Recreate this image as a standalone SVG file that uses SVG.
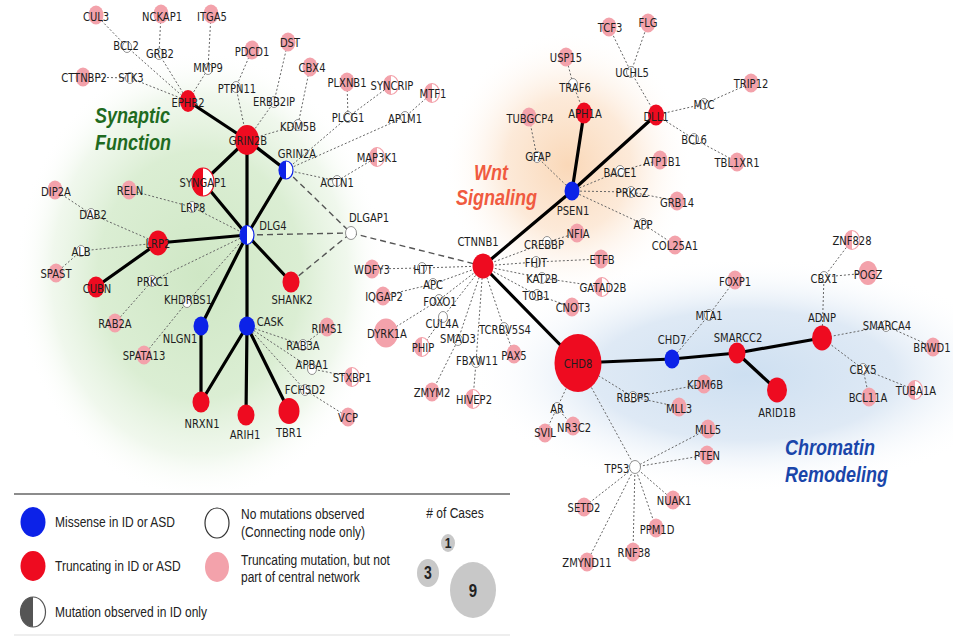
<svg xmlns="http://www.w3.org/2000/svg" width="953" height="638" viewBox="0 0 953 638">
<defs>
  <radialGradient id="gGreen" cx="0.5" cy="0.5" r="0.5">
    <stop offset="0" stop-color="#cfe7c5"/>
    <stop offset="0.55" stop-color="#d9edd1" stop-opacity="0.95"/>
    <stop offset="0.8" stop-color="#e6f3e1" stop-opacity="0.6"/>
    <stop offset="1" stop-color="#ffffff" stop-opacity="0"/>
  </radialGradient>
  <radialGradient id="gOrange" cx="0.5" cy="0.5" r="0.5">
    <stop offset="0" stop-color="#fad8b8"/>
    <stop offset="0.5" stop-color="#fce6d2" stop-opacity="0.85"/>
    <stop offset="1" stop-color="#ffffff" stop-opacity="0"/>
  </radialGradient>
  <radialGradient id="gBlue" cx="0.5" cy="0.5" r="0.5">
    <stop offset="0" stop-color="#cddff1"/>
    <stop offset="0.55" stop-color="#dbe7f4" stop-opacity="0.9"/>
    <stop offset="1" stop-color="#ffffff" stop-opacity="0"/>
  </radialGradient>
</defs>
<style>
  .pk{fill:#f3a2ab}
  .rd{fill:#ee0b20}
  .bl{fill:#0c22e8}
  .wh{fill:#fff;stroke:#777;stroke-width:.8}
  .hb{fill:#fff;stroke:#0c22e8;stroke-width:1.2}
  .hr{fill:#fff;stroke:#ee0b20;stroke-width:1.2}
  .hp{fill:#fff;stroke:#f3a2ab;stroke-width:1.2}
  .lb{font-family:"DejaVu Sans",Verdana,sans-serif;font-size:10px;fill:#1e1e1e;text-anchor:middle}
  .thk{stroke:#000;stroke-width:3.2;fill:none;stroke-linecap:round}
  .dsh{stroke:#555;stroke-width:1.4;fill:none;stroke-dasharray:6 4}
  .dot{stroke:#666;stroke-width:1;fill:none;stroke-dasharray:2 2}
  .ttl{font-family:"Liberation Sans",Arial,sans-serif;font-size:18px;font-weight:bold;font-style:italic}
  .lg{font-family:"Liberation Sans",Arial,sans-serif;font-size:12px;fill:#222}
  .cs{fill:#c8c8c8}
  .num{font-family:"Liberation Sans",Arial,sans-serif;font-weight:bold;fill:#222;text-anchor:middle}
</style>

<!-- soft background regions -->
<g id="regions">
  <ellipse cx="200" cy="275" rx="185" ry="225" fill="url(#gGreen)"/>
  <ellipse cx="568" cy="165" rx="125" ry="135" fill="url(#gOrange)"/>
  <ellipse cx="745" cy="375" rx="275" ry="118" fill="url(#gBlue)"/>
</g>

<g id="region-titles">
  <g fill="#1f6b1f">
    <text class="ttl" transform="translate(95 123) scale(1 1.25)">Synaptic</text>
    <text class="ttl" transform="translate(95 150) scale(1 1.25)">Function</text>
  </g>
  <g fill="#f05a40">
    <text class="ttl" transform="translate(474 180) scale(1 1.25)">Wnt</text>
    <text class="ttl" transform="translate(456 205) scale(1 1.25)">Signaling</text>
  </g>
  <g fill="#1a46aa">
    <text class="ttl" transform="translate(785 455) scale(1 1.25)">Chromatin</text>
    <text class="ttl" transform="translate(785 482) scale(1 1.25)">Remodeling</text>
  </g>
</g>

<!-- connectors -->
<g id="connectors">
  <g class="dot">
    <path d="M96,15L127,47L188,101M161,14L159,54L188,101M211,14L208,69L188,101M83,77L130,78L188,101"/>
    <path d="M252,50L236,87L247,140M288,42L274,102L247,140M310,67L298,125L247,140"/>
    <path d="M347,82L348,117M391,85L348,117L286,170M432,93L405,117L286,170M377,157L337,181L286,170"/>
    <path d="M55,190L91,214L158,243M129,190L192,207L247,235M56,273L81,251L158,243M115,323L152,281L247,235M144,355L187,302L247,235"/>
    <path d="M247,326L303,345L327,327M247,326L312,369L352,377M247,326L305,390L348,417"/>
    <path d="M483,266L422,268L372,269M483,266L433,284L383,296M483,266L439,300L386,333M483,266L443,317L422,347M483,266L458,340L432,392M483,266L476,362L473,399M483,266L504,328L514,354"/>
    <path d="M483,266L547,242L577,233M483,266L536,262L601,259M483,266L542,278L602,287M483,266L537,295L572,307"/>
    <path d="M572,191L537,157L529,117M584,113L573,84L566,57M656,115L631,72L609,27M631,72L648,23M656,115L704,104L751,83M656,115L694,139L737,162"/>
    <path d="M572,191L620,171L660,160M572,191L631,192L677,201M572,191L643,224L675,245"/>
    <path d="M672,359L709,315L735,280M822,338L824,277L852,240M824,277L868,273M822,338L886,326L933,347M822,338L863,369L869,397M863,369L915,390"/>
    <path d="M578,363L633,397L704,384M633,397L679,407M578,363L557,408L545,433M557,408L573,426"/>
    <path d="M578,363L635,467L708,429M635,467L707,455M635,467L673,500M635,467L656,528M635,467L633,552M635,467L587,562M635,467L584,507"/>
  </g>
  <g class="dsh">
    <path d="M286,170L351,233M247,235L351,233M291,282L351,233M351,233L483,266"/>
  </g>
  <g class="thk">
    <path d="M188,101L247,140M247,140L203,182M247,140L247,235M247,140L286,170M203,182L247,235M286,170L247,235"/>
    <path d="M158,243L247,235M158,243L96,287M247,235L291,282M247,235L201,326M247,235L247,326"/>
    <path d="M201,326L201,402M247,326L201,402M247,326L246,415M247,326L289,411"/>
    <path d="M483,266L572,191M572,191L656,115M572,191L584,113M483,266L578,363"/>
    <path d="M578,363L672,359M672,359L737,353M737,353L822,338M737,353L777,390"/>
  </g>
</g>

<!-- genes: synaptic function -->
<g id="nodes">
<g id="n-CUL3"><ellipse class="pk" cx="96" cy="15" rx="7.5" ry="9.5"/><text class="lb" transform="translate(96 20.5) scale(1 1.25)">CUL3</text></g>
<g id="n-NCKAP1"><ellipse class="pk" cx="161" cy="14" rx="7.5" ry="9.5"/><text class="lb" transform="translate(162 20.5) scale(1 1.25)">NCKAP1</text></g>
<g id="n-ITGA5"><ellipse class="pk" cx="211" cy="14" rx="7.5" ry="9.5"/><text class="lb" transform="translate(212 20.5) scale(1 1.25)">ITGA5</text></g>
<g id="n-BCL2"><ellipse class="wh" cx="127" cy="47" rx="4.5" ry="5.5"/><text class="lb" transform="translate(126 49.5) scale(1 1.25)">BCL2</text></g>
<g id="n-GRB2"><ellipse class="wh" cx="159" cy="54" rx="4.5" ry="5.5"/><text class="lb" transform="translate(160 57.5) scale(1 1.25)">GRB2</text></g>
<g id="n-MMP9"><ellipse class="wh" cx="208" cy="69" rx="4.5" ry="5.5"/><text class="lb" transform="translate(208 71.5) scale(1 1.25)">MMP9</text></g>
<g id="n-PDCD1"><ellipse class="pk" cx="252" cy="50" rx="7.5" ry="9.5"/><text class="lb" transform="translate(252 55.5) scale(1 1.25)">PDCD1</text></g>
<g id="n-DST"><ellipse class="pk" cx="288" cy="42" rx="7.5" ry="9.5"/><text class="lb" transform="translate(290 46.5) scale(1 1.25)">DST</text></g>
<g id="n-CBX4"><ellipse class="pk" cx="310" cy="67" rx="7.5" ry="9.5"/><text class="lb" transform="translate(312 71.5) scale(1 1.25)">CBX4</text></g>
<g id="n-CTTNBP2"><ellipse class="pk" cx="83" cy="77" rx="7.5" ry="9.5"/><text class="lb" transform="translate(84 81.5) scale(1 1.25)">CTTNBP2</text></g>
<g id="n-STK3"><ellipse class="wh" cx="130" cy="78" rx="4.5" ry="5.5"/><text class="lb" transform="translate(131 81.5) scale(1 1.25)">STK3</text></g>
<g id="n-EPHB2"><ellipse class="rd" cx="188" cy="101" rx="8" ry="11"/><text class="lb" transform="translate(188 106.5) scale(1 1.25)">EPHB2</text></g>
<g id="n-PTPN11"><ellipse class="wh" cx="236" cy="87" rx="4.5" ry="5.5"/><text class="lb" transform="translate(237 92.5) scale(1 1.25)">PTPN11</text></g>
<g id="n-ERBB2IP"><ellipse class="wh" cx="274" cy="102" rx="4.5" ry="5.5"/><text class="lb" transform="translate(274 105.5) scale(1 1.25)">ERBB2IP</text></g>
<g id="n-KDM5B"><ellipse class="wh" cx="298" cy="125" rx="4.5" ry="5.5"/><text class="lb" transform="translate(298 130.5) scale(1 1.25)">KDM5B</text></g>
<g id="n-GRIN2B"><ellipse class="rd" cx="247" cy="140" rx="12" ry="15"/><text class="lb" transform="translate(248 144.5) scale(1 1.25)">GRIN2B</text></g>
<g id="n-GRIN2A"><ellipse class="hb" cx="286" cy="170" rx="7" ry="9"/><path class="bl" d="M286,161A7,9 0 0 0 286,179Z"/><text class="lb" transform="translate(297 157.5) scale(1 1.25)">GRIN2A</text></g>
<g id="n-SYNGAP1"><ellipse class="hr" cx="203" cy="182" rx="11" ry="14"/><path class="rd" d="M203,168A11,14 0 0 0 203,196Z"/><text class="lb" transform="translate(203 186.5) scale(1 1.25)">SYNGAP1</text></g>
<g id="n-PLXNB1"><ellipse class="pk" cx="347" cy="82" rx="7.5" ry="9.5"/><text class="lb" transform="translate(347 86.5) scale(1 1.25)">PLXNB1</text></g>
<g id="n-SYNCRIP"><ellipse class="hp" cx="391" cy="85" rx="7.5" ry="9.5"/><path class="pk" d="M391,75.5A7.5,9.5 0 0 0 391,94.5Z"/><text class="lb" transform="translate(392 89.5) scale(1 1.25)">SYNCRIP</text></g>
<g id="n-MTF1"><ellipse class="hp" cx="432" cy="93" rx="7.5" ry="9.5"/><path class="pk" d="M432,83.5A7.5,9.5 0 0 0 432,102.5Z"/><text class="lb" transform="translate(433 97.5) scale(1 1.25)">MTF1</text></g>
<g id="n-PLCG1"><ellipse class="wh" cx="348" cy="117" rx="4.5" ry="5.5"/><text class="lb" transform="translate(348 121.5) scale(1 1.25)">PLCG1</text></g>
<g id="n-AP1M1"><ellipse class="wh" cx="405" cy="117" rx="4.5" ry="5.5"/><text class="lb" transform="translate(405 122.5) scale(1 1.25)">AP1M1</text></g>
<g id="n-MAP3K1"><ellipse class="hp" cx="377" cy="157" rx="7.5" ry="9.5"/><path class="pk" d="M377,147.5A7.5,9.5 0 0 0 377,166.5Z"/><text class="lb" transform="translate(377 161.5) scale(1 1.25)">MAP3K1</text></g>
<g id="n-ACTN1"><ellipse class="wh" cx="337" cy="181" rx="4.5" ry="5.5"/><text class="lb" transform="translate(337 186.5) scale(1 1.25)">ACTN1</text></g>
<g id="n-DLGAP1"><ellipse class="wh" cx="351" cy="233" rx="5.5" ry="6.5"/><text class="lb" transform="translate(369 221.5) scale(1 1.25)">DLGAP1</text></g>
<g id="n-DIP2A"><ellipse class="pk" cx="55" cy="190" rx="7.5" ry="9.5"/><text class="lb" transform="translate(56 195.5) scale(1 1.25)">DIP2A</text></g>
<g id="n-RELN"><ellipse class="pk" cx="129" cy="190" rx="7.5" ry="9.5"/><text class="lb" transform="translate(130 194.5) scale(1 1.25)">RELN</text></g>
<g id="n-LRP8"><ellipse class="wh" cx="192" cy="207" rx="4.5" ry="5.5"/><text class="lb" transform="translate(193 211.5) scale(1 1.25)">LRP8</text></g>
<g id="n-DAB2"><ellipse class="wh" cx="91" cy="214" rx="4.5" ry="5.5"/><text class="lb" transform="translate(93 218.5) scale(1 1.25)">DAB2</text></g>
<g id="n-LRP2"><ellipse class="rd" cx="158" cy="243" rx="10" ry="12.5"/><text class="lb" transform="translate(158 247.5) scale(1 1.25)">LRP2</text></g>
<g id="n-DLG4"><ellipse class="hb" cx="247" cy="235" rx="7" ry="9.5"/><path class="bl" d="M247,225.5A7,9.5 0 0 0 247,244.5Z"/><text class="lb" transform="translate(273 229.5) scale(1 1.25)">DLG4</text></g>
<g id="n-ALB"><ellipse class="wh" cx="81" cy="251" rx="4.5" ry="5.5"/><text class="lb" transform="translate(81 255.5) scale(1 1.25)">ALB</text></g>
<g id="n-SPAST"><ellipse class="pk" cx="56" cy="273" rx="7.5" ry="9.5"/><text class="lb" transform="translate(56 277.5) scale(1 1.25)">SPAST</text></g>
<g id="n-CUBN"><ellipse class="rd" cx="96" cy="287" rx="8.5" ry="10.5"/><text class="lb" transform="translate(97 292.5) scale(1 1.25)">CUBN</text></g>
<g id="n-PRKC1"><ellipse class="wh" cx="152" cy="281" rx="4.5" ry="5.5"/><text class="lb" transform="translate(153 285.5) scale(1 1.25)">PRKC1</text></g>
<g id="n-SHANK2"><ellipse class="rd" cx="291" cy="282" rx="8.5" ry="10.5"/><text class="lb" transform="translate(292 303.5) scale(1 1.25)">SHANK2</text></g>
<g id="n-KHDRBS1"><ellipse class="wh" cx="187" cy="302" rx="4.5" ry="5.5"/><text class="lb" transform="translate(188 303.5) scale(1 1.25)">KHDRBS1</text></g>
<g id="n-RAB2A"><ellipse class="pk" cx="115" cy="323" rx="7.5" ry="9.5"/><text class="lb" transform="translate(115 327.5) scale(1 1.25)">RAB2A</text></g>
<g id="n-NLGN1"><ellipse class="bl" cx="201" cy="326" rx="7.5" ry="9.5"/><text class="lb" transform="translate(180 342.5) scale(1 1.25)">NLGN1</text></g>
<g id="n-CASK"><ellipse class="bl" cx="247" cy="326" rx="8" ry="9.5"/><text class="lb" transform="translate(270 325.5) scale(1 1.25)">CASK</text></g>
<g id="n-SPATA13"><ellipse class="pk" cx="144" cy="355" rx="7.5" ry="9.5"/><text class="lb" transform="translate(144 359.5) scale(1 1.25)">SPATA13</text></g>
<g id="n-NRXN1"><ellipse class="rd" cx="201" cy="402" rx="8.5" ry="10.5"/><text class="lb" transform="translate(202 427.5) scale(1 1.25)">NRXN1</text></g>
<g id="n-ARIH1"><ellipse class="rd" cx="246" cy="415" rx="8.5" ry="10.5"/><text class="lb" transform="translate(245 438.5) scale(1 1.25)">ARIH1</text></g>
<g id="n-TBR1"><ellipse class="rd" cx="289" cy="411" rx="10.5" ry="13"/><text class="lb" transform="translate(289 436.5) scale(1 1.25)">TBR1</text></g>
<g id="n-RIMS1"><ellipse class="pk" cx="327" cy="327" rx="7.5" ry="9.5"/><text class="lb" transform="translate(327 332.5) scale(1 1.25)">RIMS1</text></g>
<g id="n-RAB3A"><ellipse class="wh" cx="303" cy="345" rx="4.5" ry="5.5"/><text class="lb" transform="translate(303 349.5) scale(1 1.25)">RAB3A</text></g>
<g id="n-APBA1"><ellipse class="wh" cx="312" cy="369" rx="4.5" ry="5.5"/><text class="lb" transform="translate(312 368.5) scale(1 1.25)">APBA1</text></g>
<g id="n-STXBP1"><ellipse class="hp" cx="352" cy="377" rx="7.5" ry="9.5"/><path class="pk" d="M352,367.5A7.5,9.5 0 0 0 352,386.5Z"/><text class="lb" transform="translate(352 381.5) scale(1 1.25)">STXBP1</text></g>
<g id="n-FCHSD2"><ellipse class="wh" cx="305" cy="390" rx="4.5" ry="5.5"/><text class="lb" transform="translate(305 393.5) scale(1 1.25)">FCHSD2</text></g>
<g id="n-VCP"><ellipse class="pk" cx="348" cy="417" rx="7.5" ry="9.5"/><text class="lb" transform="translate(348 421.5) scale(1 1.25)">VCP</text></g>

<!-- genes: Wnt signaling -->
<g id="n-CTNNB1"><ellipse class="rd" cx="483" cy="266" rx="10.5" ry="12.5"/><text class="lb" transform="translate(478 245.5) scale(1 1.25)">CTNNB1</text></g>
<g id="n-WDFY3"><ellipse class="pk" cx="372" cy="269" rx="7.5" ry="9.5"/><text class="lb" transform="translate(372 273.5) scale(1 1.25)">WDFY3</text></g>
<g id="n-HTT"><ellipse class="wh" cx="422" cy="268" rx="4.5" ry="5.5"/><text class="lb" transform="translate(423 273.5) scale(1 1.25)">HTT</text></g>
<g id="n-APC"><ellipse class="wh" cx="433" cy="284" rx="4.5" ry="5.5"/><text class="lb" transform="translate(433 288.5) scale(1 1.25)">APC</text></g>
<g id="n-IQGAP2"><ellipse class="pk" cx="383" cy="296" rx="7.5" ry="9.5"/><text class="lb" transform="translate(384 300.5) scale(1 1.25)">IQGAP2</text></g>
<g id="n-FOXO1"><ellipse class="wh" cx="439" cy="300" rx="4.5" ry="5.5"/><text class="lb" transform="translate(440 305.5) scale(1 1.25)">FOXO1</text></g>
<g id="n-DYRK1A"><ellipse class="pk" cx="386" cy="333" rx="12" ry="14.5"/><text class="lb" transform="translate(387 337.5) scale(1 1.25)">DYRK1A</text></g>
<g id="n-CUL4A"><ellipse class="wh" cx="443" cy="317" rx="4.5" ry="5.5"/><text class="lb" transform="translate(442 327.5) scale(1 1.25)">CUL4A</text></g>
<g id="n-PHIP"><ellipse class="hp" cx="422" cy="347" rx="7.5" ry="9.5"/><path class="pk" d="M422,337.5A7.5,9.5 0 0 0 422,356.5Z"/><text class="lb" transform="translate(423 351.5) scale(1 1.25)">PHIP</text></g>
<g id="n-SMAD3"><ellipse class="wh" cx="458" cy="340" rx="4.5" ry="5.5"/><text class="lb" transform="translate(458 342.5) scale(1 1.25)">SMAD3</text></g>
<g id="n-TCRBV5S4"><ellipse class="wh" cx="504" cy="328" rx="4.5" ry="5.5"/><text class="lb" transform="translate(505 333.5) scale(1 1.25)">TCRBV5S4</text></g>
<g id="n-PAX5"><ellipse class="pk" cx="514" cy="354" rx="7.5" ry="9.5"/><text class="lb" transform="translate(514 359.5) scale(1 1.25)">PAX5</text></g>
<g id="n-FBXW11"><ellipse class="wh" cx="476" cy="362" rx="4.5" ry="5.5"/><text class="lb" transform="translate(477 364.5) scale(1 1.25)">FBXW11</text></g>
<g id="n-ZMYM2"><ellipse class="pk" cx="432" cy="392" rx="7.5" ry="9.5"/><text class="lb" transform="translate(432 396.5) scale(1 1.25)">ZMYM2</text></g>
<g id="n-HIVEP2"><ellipse class="hp" cx="473" cy="399" rx="7.5" ry="9.5"/><path class="pk" d="M473,389.5A7.5,9.5 0 0 0 473,408.5Z"/><text class="lb" transform="translate(474 403.5) scale(1 1.25)">HIVEP2</text></g>
<g id="n-CREBBP"><ellipse class="wh" cx="547" cy="242" rx="4.5" ry="5.5"/><text class="lb" transform="translate(544 248.5) scale(1 1.25)">CREBBP</text></g>
<g id="n-NFIA"><ellipse class="pk" cx="577" cy="233" rx="7.5" ry="9.5"/><text class="lb" transform="translate(578 237.5) scale(1 1.25)">NFIA</text></g>
<g id="n-FHIT"><ellipse class="wh" cx="536" cy="262" rx="4.5" ry="5.5"/><text class="lb" transform="translate(536 266.5) scale(1 1.25)">FHIT</text></g>
<g id="n-ETFB"><ellipse class="pk" cx="601" cy="259" rx="7.5" ry="9.5"/><text class="lb" transform="translate(602 263.5) scale(1 1.25)">ETFB</text></g>
<g id="n-KAT2B"><ellipse class="wh" cx="542" cy="278" rx="4.5" ry="5.5"/><text class="lb" transform="translate(542 282.5) scale(1 1.25)">KAT2B</text></g>
<g id="n-GATAD2B"><ellipse class="hp" cx="602" cy="287" rx="7.5" ry="9.5"/><path class="pk" d="M602,277.5A7.5,9.5 0 0 0 602,296.5Z"/><text class="lb" transform="translate(603 291.5) scale(1 1.25)">GATAD2B</text></g>
<g id="n-TOB1"><ellipse class="wh" cx="537" cy="295" rx="4.5" ry="5.5"/><text class="lb" transform="translate(536 299.5) scale(1 1.25)">TOB1</text></g>
<g id="n-CNOT3"><ellipse class="pk" cx="572" cy="307" rx="7.5" ry="9.5"/><text class="lb" transform="translate(573 311.5) scale(1 1.25)">CNOT3</text></g>
<g id="n-PSEN1"><ellipse class="bl" cx="572" cy="191" rx="7.5" ry="9.5"/><text class="lb" transform="translate(573 214.5) scale(1 1.25)">PSEN1</text></g>
<g id="n-APH1A"><ellipse class="rd" cx="584" cy="113" rx="8" ry="10.5"/><text class="lb" transform="translate(585 117.5) scale(1 1.25)">APH1A</text></g>
<g id="n-TRAF6"><ellipse class="wh" cx="573" cy="84" rx="4.5" ry="5.5"/><text class="lb" transform="translate(575 91.5) scale(1 1.25)">TRAF6</text></g>
<g id="n-USP15"><ellipse class="pk" cx="566" cy="57" rx="7.5" ry="9.5"/><text class="lb" transform="translate(566 61.5) scale(1 1.25)">USP15</text></g>
<g id="n-TUBGCP4"><ellipse class="pk" cx="529" cy="117" rx="7.5" ry="9.5"/><text class="lb" transform="translate(530 122.5) scale(1 1.25)">TUBGCP4</text></g>
<g id="n-GFAP"><ellipse class="wh" cx="537" cy="157" rx="4.5" ry="5.5"/><text class="lb" transform="translate(538 160.5) scale(1 1.25)">GFAP</text></g>
<g id="n-TCF3"><ellipse class="pk" cx="609" cy="27" rx="7.5" ry="9.5"/><text class="lb" transform="translate(610 31.5) scale(1 1.25)">TCF3</text></g>
<g id="n-FLG"><ellipse class="pk" cx="648" cy="23" rx="7.5" ry="9.5"/><text class="lb" transform="translate(648 26.5) scale(1 1.25)">FLG</text></g>
<g id="n-UCHL5"><ellipse class="wh" cx="631" cy="72" rx="4.5" ry="5.5"/><text class="lb" transform="translate(632 76.5) scale(1 1.25)">UCHL5</text></g>
<g id="n-TRIP12"><ellipse class="pk" cx="751" cy="83" rx="7.5" ry="9.5"/><text class="lb" transform="translate(751 87.5) scale(1 1.25)">TRIP12</text></g>
<g id="n-MYC"><ellipse class="wh" cx="704" cy="104" rx="4.5" ry="5.5"/><text class="lb" transform="translate(704 108.5) scale(1 1.25)">MYC</text></g>
<g id="n-DLL1"><ellipse class="rd" cx="656" cy="115" rx="8" ry="10.5"/><text class="lb" transform="translate(656 120.5) scale(1 1.25)">DLL1</text></g>
<g id="n-BCL6"><ellipse class="wh" cx="694" cy="139" rx="4.5" ry="5.5"/><text class="lb" transform="translate(694 143.5) scale(1 1.25)">BCL6</text></g>
<g id="n-ATP1B1"><ellipse class="pk" cx="660" cy="160" rx="7.5" ry="9.5"/><text class="lb" transform="translate(662 165.5) scale(1 1.25)">ATP1B1</text></g>
<g id="n-TBL1XR1"><ellipse class="pk" cx="737" cy="162" rx="7.5" ry="9.5"/><text class="lb" transform="translate(737 166.5) scale(1 1.25)">TBL1XR1</text></g>
<g id="n-BACE1"><ellipse class="wh" cx="620" cy="171" rx="4.5" ry="5.5"/><text class="lb" transform="translate(620 176.5) scale(1 1.25)">BACE1</text></g>
<g id="n-PRKCZ"><ellipse class="wh" cx="631" cy="192" rx="4.5" ry="5.5"/><text class="lb" transform="translate(632 196.5) scale(1 1.25)">PRKCZ</text></g>
<g id="n-GRB14"><ellipse class="pk" cx="677" cy="201" rx="7.5" ry="9.5"/><text class="lb" transform="translate(677 206.5) scale(1 1.25)">GRB14</text></g>
<g id="n-APP"><ellipse class="wh" cx="643" cy="224" rx="4.5" ry="5.5"/><text class="lb" transform="translate(643 228.5) scale(1 1.25)">APP</text></g>
<g id="n-COL25A1"><ellipse class="pk" cx="675" cy="245" rx="7.5" ry="9.5"/><text class="lb" transform="translate(675 249.5) scale(1 1.25)">COL25A1</text></g>

<!-- genes: chromatin remodeling -->
<g id="n-CHD8"><ellipse class="rd" cx="578" cy="363" rx="23.5" ry="29"/><text class="lb" transform="translate(578 367.5) scale(1 1.25)">CHD8</text></g>
<g id="n-CHD7"><ellipse class="bl" cx="672" cy="359" rx="7.5" ry="9.5"/><text class="lb" transform="translate(672 343.5) scale(1 1.25)">CHD7</text></g>
<g id="n-SMARCC2"><ellipse class="rd" cx="737" cy="353" rx="8.5" ry="10.5"/><text class="lb" transform="translate(738 341.5) scale(1 1.25)">SMARCC2</text></g>
<g id="n-ADNP"><ellipse class="rd" cx="822" cy="338" rx="10" ry="12.5"/><text class="lb" transform="translate(822 321.5) scale(1 1.25)">ADNP</text></g>
<g id="n-ARID1B"><ellipse class="rd" cx="777" cy="390" rx="10" ry="12.5"/><text class="lb" transform="translate(777 416.5) scale(1 1.25)">ARID1B</text></g>
<g id="n-MTA1"><ellipse class="wh" cx="709" cy="315" rx="4.5" ry="5.5"/><text class="lb" transform="translate(709 319.5) scale(1 1.25)">MTA1</text></g>
<g id="n-FOXP1"><ellipse class="pk" cx="735" cy="280" rx="7.5" ry="9.5"/><text class="lb" transform="translate(735 285.5) scale(1 1.25)">FOXP1</text></g>
<g id="n-CBX1"><ellipse class="wh" cx="824" cy="277" rx="4.5" ry="5.5"/><text class="lb" transform="translate(824 282.5) scale(1 1.25)">CBX1</text></g>
<g id="n-ZNF828"><ellipse class="hp" cx="852" cy="240" rx="7.5" ry="9.5"/><path class="pk" d="M852,230.5A7.5,9.5 0 0 0 852,249.5Z"/><text class="lb" transform="translate(852 244.5) scale(1 1.25)">ZNF828</text></g>
<g id="n-POGZ"><ellipse class="pk" cx="868" cy="273" rx="9.5" ry="12"/><text class="lb" transform="translate(868 278.5) scale(1 1.25)">POGZ</text></g>
<g id="n-SMARCA4"><ellipse class="wh" cx="886" cy="326" rx="4.5" ry="5.5"/><text class="lb" transform="translate(887 329.5) scale(1 1.25)">SMARCA4</text></g>
<g id="n-BRWD1"><ellipse class="pk" cx="933" cy="347" rx="7.5" ry="9.5"/><text class="lb" transform="translate(932 351.5) scale(1 1.25)">BRWD1</text></g>
<g id="n-CBX5"><ellipse class="wh" cx="863" cy="369" rx="4.5" ry="5.5"/><text class="lb" transform="translate(863 373.5) scale(1 1.25)">CBX5</text></g>
<g id="n-BCL11A"><ellipse class="pk" cx="869" cy="397" rx="7.5" ry="9.5"/><text class="lb" transform="translate(868 401.5) scale(1 1.25)">BCL11A</text></g>
<g id="n-TUBA1A"><ellipse class="hp" cx="915" cy="390" rx="7.5" ry="9.5"/><path class="pk" d="M915,380.5A7.5,9.5 0 0 0 915,399.5Z"/><text class="lb" transform="translate(916 394.5) scale(1 1.25)">TUBA1A</text></g>
<g id="n-RBBP5"><ellipse class="wh" cx="633" cy="397" rx="4.5" ry="5.5"/><text class="lb" transform="translate(633 401.5) scale(1 1.25)">RBBP5</text></g>
<g id="n-KDM6B"><ellipse class="pk" cx="704" cy="384" rx="7.5" ry="9.5"/><text class="lb" transform="translate(705 388.5) scale(1 1.25)">KDM6B</text></g>
<g id="n-MLL3"><ellipse class="pk" cx="679" cy="407" rx="7.5" ry="9.5"/><text class="lb" transform="translate(679 412.5) scale(1 1.25)">MLL3</text></g>
<g id="n-AR"><ellipse class="wh" cx="557" cy="408" rx="4.5" ry="5.5"/><text class="lb" transform="translate(557 412.5) scale(1 1.25)">AR</text></g>
<g id="n-SVIL"><ellipse class="pk" cx="545" cy="433" rx="7.5" ry="9.5"/><text class="lb" transform="translate(545 436.5) scale(1 1.25)">SVIL</text></g>
<g id="n-NR3C2"><ellipse class="pk" cx="573" cy="426" rx="7.5" ry="9.5"/><text class="lb" transform="translate(574 431.5) scale(1 1.25)">NR3C2</text></g>
<g id="n-TP53"><ellipse class="wh" cx="635" cy="467" rx="5.5" ry="6.5"/><text class="lb" transform="translate(617 472.5) scale(1 1.25)">TP53</text></g>
<g id="n-MLL5"><ellipse class="pk" cx="708" cy="429" rx="7.5" ry="9.5"/><text class="lb" transform="translate(708 433.5) scale(1 1.25)">MLL5</text></g>
<g id="n-PTEN"><ellipse class="pk" cx="707" cy="455" rx="7.5" ry="9.5"/><text class="lb" transform="translate(707 459.5) scale(1 1.25)">PTEN</text></g>
<g id="n-NUAK1"><ellipse class="pk" cx="673" cy="500" rx="7.5" ry="9.5"/><text class="lb" transform="translate(674 504.5) scale(1 1.25)">NUAK1</text></g>
<g id="n-SETD2"><ellipse class="pk" cx="584" cy="507" rx="7.5" ry="9.5"/><text class="lb" transform="translate(584 511.5) scale(1 1.25)">SETD2</text></g>
<g id="n-PPM1D"><ellipse class="pk" cx="656" cy="528" rx="7.5" ry="9.5"/><text class="lb" transform="translate(657 533.5) scale(1 1.25)">PPM1D</text></g>
<g id="n-RNF38"><ellipse class="pk" cx="633" cy="552" rx="7.5" ry="9.5"/><text class="lb" transform="translate(634 556.5) scale(1 1.25)">RNF38</text></g>
<g id="n-ZMYND11"><ellipse class="pk" cx="587" cy="562" rx="7.5" ry="9.5"/><text class="lb" transform="translate(587 566.5) scale(1 1.25)">ZMYND11</text></g>
</g>

<!-- legend -->
<g id="legend">
  <line x1="14" y1="494" x2="510" y2="494" stroke="#666" stroke-width="1.5"/>
  <line x1="14" y1="635" x2="510" y2="635" stroke="#ddd" stroke-width="1"/>
  <ellipse class="bl" cx="33" cy="522" rx="12.5" ry="15"/>
  <text class="lg" transform="translate(55 527.4) scale(1 1.25)">Missense in ID or ASD</text>
  <ellipse class="rd" cx="33" cy="566" rx="12.5" ry="15"/>
  <text class="lg" transform="translate(55 571.4) scale(1 1.25)">Truncating in ID or ASD</text>
  <ellipse cx="33" cy="612" rx="12.5" ry="15" fill="#fff" stroke="#555" stroke-width="1.2"/>
  <path d="M33,597A12.5,15 0 0 0 33,627Z" fill="#555"/>
  <text class="lg" transform="translate(55 617.4) scale(1 1.25)">Mutation observed in ID only</text>
  <ellipse cx="217" cy="523" rx="12" ry="15" fill="#fff" stroke="#333" stroke-width="1.2"/>
  <text class="lg" transform="translate(241 519.4) scale(1 1.25)">No mutations observed</text>
  <text class="lg" transform="translate(241 537.4) scale(1 1.25)">(Connecting node only)</text>
  <ellipse class="pk" cx="217" cy="567" rx="12" ry="15"/>
  <text class="lg" transform="translate(241 565.4) scale(1 1.25)">Truncating mutation, but not</text>
  <text class="lg" transform="translate(241 582.4) scale(1 1.25)">part of central network</text>
  <text class="lg" text-anchor="middle" transform="translate(455 518.4) scale(1 1.25)"># of Cases</text>
  <ellipse class="cs" cx="448" cy="543" rx="7" ry="9"/>
  <text class="num" font-size="12" transform="translate(448 548.4) scale(1 1.25)">1</text>
  <ellipse class="cs" cx="428" cy="573" rx="11" ry="14"/>
  <text class="num" font-size="14" transform="translate(428 579.3) scale(1 1.25)">3</text>
  <ellipse class="cs" cx="473" cy="590" rx="23" ry="28"/>
  <text class="num" font-size="15" transform="translate(473 596.7) scale(1 1.25)">9</text>
</g>
</svg>
